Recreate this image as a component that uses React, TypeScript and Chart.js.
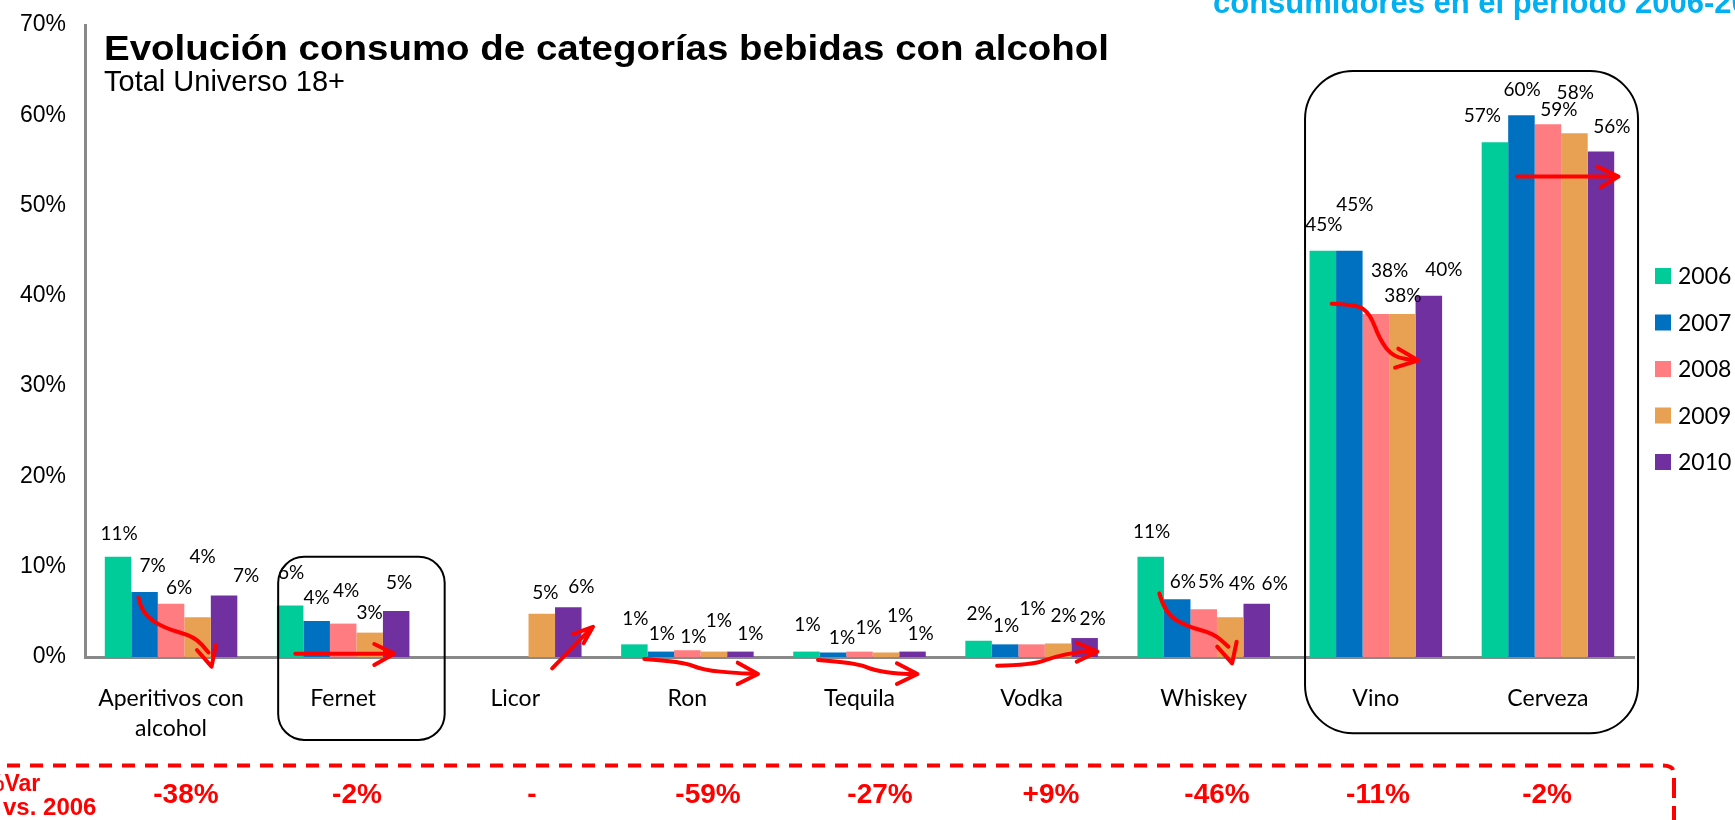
import React, { useEffect, useRef } from 'react';
import { Chart, registerables } from 'chart.js';

Chart.register(...registerables);

// ---------- DATA ----------
const categories: (string | string[])[] = [
  ['Aperitivos con', 'alcohol'],
  'Fernet',
  'Licor',
  'Ron',
  'Tequila',
  'Vodka',
  'Whiskey',
  'Vino',
  'Cerveza',
];
const years = ['2006', '2007', '2008', '2009', '2010'];
const v2006 = [11.1, 5.7, null, 1.4, 0.6, 1.8, 11.1, 45, 57];
const v2007 = [7.2, 4.0, null, 0.6, 0.5, 1.4, 6.4, 45, 60];
const v2008 = [5.9, 3.7, null, 0.75, 0.6, 1.4, 5.3, 38, 59];
const v2009 = [4.4, 2.7, 4.8, 0.6, 0.5, 1.5, 4.4, 38, 58];
const v2010 = [6.8, 5.1, 5.5, 0.6, 0.6, 2.1, 5.9, 40, 56];
const yTickValues = [0, 10, 20, 30, 40, 50, 60, 70];
const varLabels = ['-38%', '-2%', '-', '-59%', '-27%', '+9%', '-46%', '-11%', '-2%'];

const titleText = 'Evolución consumo de categorías bebidas con alcohol';
const subtitleText = 'Total Universo 18+';
const topNoteText = 'consumidores en el período 2006-2010';

// ---------- STYLE / LAYOUT ----------
const colors = ['#00CC99', '#0070C0', '#FF7C80', '#E8A052', '#7030A0'];

// manual label nudges (px) relative to default position above each bar
const labelDx = [
  [1, 1, 0, 1, 1, 1, 1, 1, -12.5],
  [8, 0, 0, 1, 9, 1, 5.6, 5.5, 0.7],
  [8, 3, 0, 6, 9, 1, 7.4, 13.7, 11],
  [5, 0, 3.5, 5, 14, 5.5, 12, 0.5, 0.8],
  [22, 3, 13, 10, 8, 8, 18, 15, 11],
];
const labelDy = [
  [-9.4, -19, 0, -11, -13, -12.7, -10.7, -12, -12],
  [-12, -9.5, 0, -3.6, -1, -4.6, -3, -32, -11.6],
  [-2, -19, 0, 1, -10, -21, -13, -29, -0.6],
  [-46, -6, -7, -17, -23, -13.7, -19, -4, -26.4],
  [-5.5, -14.5, -6, -3.6, -4, -5, -6, -12.4, -11],
];
const varDx = [14.9, 13.8, 16.7, 20.6, 20.5, 19.4, 13.3, 2.2, -0.9];

type P = [number, number]; // [dx px from category centre, value in %]
const arrowPaths: { cat: number; shaft: P[]; tip: P; arms: [P, P] }[] = [
  { cat: 0, shaft: [[-32.6, 6.6], [-29.5, 4.83], [-6.5, 3.17], [23.9, 2.25], [37.5, 0.5]], tip: [40.5, -1.07], arms: [[25.9, 0.77], [44.9, 1.33]] },
  { cat: 1, shaft: [[-47.8, 0.37], [48, 0.37]], tip: [51, 0.37], arms: [[31.1, 1.44], [31.1, -0.88]] },
  { cat: 2, shaft: [[36.9, -1.25], [76, 3.2]], tip: [77.7, 3.35], arms: [[57.7, 2.54], [68.3, 1.52]] },
  { cat: 3, shaft: [[-43.1, -0.22], [-4.1, -0.52], [15.1, -1.44], [51.4, -1.8], [68, -1.88]], tip: [70.6, -1.88], arms: [[50.3, -0.63], [50.3, -2.99]] },
  { cat: 4, shaft: [[-41.5, -0.33], [-4, -0.63], [15.2, -1.52], [40.1, -1.88], [56, -1.88]], tip: [58, -1.88], arms: [[37.4, -0.7], [37.4, -2.99]] },
  { cat: 5, shaft: [[-34.5, -0.96], [0, -0.88], [22.9, 0.03], [45.9, 0.55], [64, 0.59]], tip: [65.8, 0.59], arms: [[45.1, 1.58], [45.1, -0.52]] },
  { cat: 6, shaft: [[-44.4, 7.05], [-38.8, 4.83], [-16.4, 3.35], [9.7, 2.62], [24.7, 1.14]], tip: [28.4, -0.7], arms: [[13.5, 1.14], [32.9, 1.69]] },
  { cat: 7, shaft: [[-44.1, 39.13], [-19.1, 39.05], [-5.8, 38.02], [4.2, 35.07], [17.5, 33.22], [40, 32.85]], tip: [42.5, 32.85], arms: [[22.5, 34.15], [19.2, 32.05]] },
  { cat: 8, shaft: [[-30.9, 53.21], [68, 53.21]], tip: [70.5, 53.21], arms: [[49.4, 54.31], [52.7, 52.02]] },
];

const calloutBoxes = [
  { catL: 1, dxL: -65, catR: 1, dxR: 101.5, vTop: 11.09, vBottom: -9.18, r: 26 },
  { catL: 7, dxL: -70.8, catR: 8, dxR: 90.1, vTop: 64.9, vBottom: -8.44, r: 48 },
];

const ARIAL = '"Liberation Sans", Arial, sans-serif';
const CALIBRI = 'Lato, "Open Sans", sans-serif';

const barLabelsPlugin = {
  id: 'barLabels',
  afterDatasetsDraw(chart: any) {
    const ctx = chart.ctx;
    ctx.save();
    ctx.font = `19px ${CALIBRI}`;
    ctx.fillStyle = '#000';
    ctx.textAlign = 'center';
    ctx.textBaseline = 'middle';
    chart.data.datasets.forEach((ds: any, si: number) => {
      const meta = chart.getDatasetMeta(si);
      meta.data.forEach((bar: any, ci: number) => {
        const v = ds.data[ci];
        if (v == null) return;
        ctx.fillText(Math.round(v) + '%', bar.x + labelDx[si][ci], bar.y - 14 + labelDy[si][ci]);
      });
    });
    ctx.restore();
  },
};

const annotationsPlugin = {
  id: 'annotations',
  afterDraw(chart: any) {
    const ctx = chart.ctx;
    const xs = chart.scales.x;
    const ys = chart.scales.y;
    const px = (cat: number, dx: number) => xs.getPixelForValue(cat) + dx;
    const py = (v: number) => ys.getPixelForValue(v);
    ctx.save();

    // callout rounded boxes
    ctx.strokeStyle = '#000';
    ctx.lineWidth = 2;
    calloutBoxes.forEach((b) => {
      const x1 = px(b.catL, b.dxL);
      const x2 = px(b.catR, b.dxR);
      const y1 = py(b.vTop);
      const y2 = py(b.vBottom);
      ctx.beginPath();
      ctx.roundRect(x1, y1, x2 - x1, y2 - y1, b.r);
      ctx.stroke();
    });

    // red hand-drawn arrows
    ctx.strokeStyle = '#FF0000';
    ctx.lineWidth = 4;
    ctx.lineCap = 'round';
    ctx.lineJoin = 'round';
    arrowPaths.forEach((a) => {
      const pts = a.shaft.map(([dx, v]) => [px(a.cat, dx), py(v)]);
      ctx.beginPath();
      ctx.moveTo(pts[0][0], pts[0][1]);
      for (let i = 1; i < pts.length - 1; i++) {
        const mx = (pts[i][0] + pts[i + 1][0]) / 2;
        const my = (pts[i][1] + pts[i + 1][1]) / 2;
        ctx.quadraticCurveTo(pts[i][0], pts[i][1], mx, my);
      }
      const last = pts[pts.length - 1];
      ctx.lineTo(last[0], last[1]);
      ctx.stroke();
      ctx.beginPath();
      ctx.moveTo(px(a.cat, a.arms[0][0]), py(a.arms[0][1]));
      ctx.lineTo(px(a.cat, a.tip[0]), py(a.tip[1]));
      ctx.lineTo(px(a.cat, a.arms[1][0]), py(a.arms[1][1]));
      ctx.stroke();
    });

    // legend
    ctx.textAlign = 'left';
    ctx.textBaseline = 'middle';
    ctx.font = `23px ${CALIBRI}`;
    chart.data.datasets.forEach((ds: any, i: number) => {
      const cy = 276 + i * 46.5;
      ctx.fillStyle = ds.backgroundColor;
      ctx.fillRect(1655, cy - 8, 16, 16);
      ctx.fillStyle = '#000';
      ctx.fillText(ds.label, 1678, cy + 1);
    });

    // title & subtitle
    ctx.textBaseline = 'alphabetic';
    ctx.fillStyle = '#000';
    ctx.font = `bold 35px ${ARIAL}`;
    const tw = ctx.measureText(titleText).width;
    ctx.save();
    ctx.translate(104, 60);
    ctx.scale(1005 / tw, 1);
    ctx.fillText(titleText, 0, 0);
    ctx.restore();
    ctx.font = `29px ${ARIAL}`;
    ctx.fillText(subtitleText, 104, 91);

    // top (cropped) blue note
    ctx.fillStyle = '#00B0F0';
    ctx.font = `bold 31px ${ARIAL}`;
    ctx.fillText(topNoteText, 1213, 13);

    // var row: dashed frame
    ctx.strokeStyle = '#FF0000';
    ctx.lineWidth = 4;
    ctx.lineCap = 'butt';
    ctx.setLineDash([13, 10]);
    ctx.beginPath();
    ctx.moveTo(7, 765.5);
    ctx.lineTo(1660, 765.5);
    ctx.stroke();
    ctx.setLineDash([]);
    ctx.beginPath();
    ctx.moveTo(1663, 765.5);
    ctx.quadraticCurveTo(1672, 766, 1673, 770);
    ctx.stroke();
    ctx.setLineDash([20, 8]);
    ctx.beginPath();
    ctx.moveTo(1674, 778);
    ctx.lineTo(1674, 830);
    ctx.stroke();
    ctx.setLineDash([]);

    // var row texts
    ctx.fillStyle = '#FF0000';
    ctx.font = `bold 23px ${ARIAL}`;
    ctx.textAlign = 'left';
    ctx.fillText('%Var', -16, 791);
    ctx.font = `bold 24px ${ARIAL}`;
    ctx.fillText('vs. 2006', 3, 815);
    ctx.font = `bold 28px ${ARIAL}`;
    ctx.textAlign = 'center';
    varLabels.forEach((t, i) => {
      ctx.fillText(t, px(i, varDx[i]), 803);
    });

    ctx.restore();
  },
};

export default function App() {
  const ref = useRef<HTMLCanvasElement>(null);
  useEffect(() => {
    document.body.style.margin = '0';
    document.body.style.overflow = 'hidden';
    const series = [v2006, v2007, v2008, v2009, v2010];
    const chart = new Chart(ref.current as HTMLCanvasElement, {
      type: 'bar',
      data: {
        labels: categories as any,
        datasets: series.map((d, i) => ({
          label: years[i],
          data: d as any,
          backgroundColor: colors[i],
          borderWidth: 0,
          barPercentage: 1,
          categoryPercentage: 0.77,
        })),
      },
      options: {
        animation: false,
        responsive: true,
        maintainAspectRatio: false,
        devicePixelRatio: 1,
        layout: { padding: { left: 0, right: 101, top: 25, bottom: 0 } },
        plugins: {
          legend: { display: false },
          tooltip: { enabled: false },
          title: { display: false },
        },
        scales: {
          x: {
            grid: { display: false, drawTicks: false },
            border: { display: true, color: '#898989', width: 3 },
            ticks: {
              font: { family: CALIBRI, size: 23, lineHeight: 1.3 },
              color: '#000',
              padding: 27,
              autoSkip: false,
              maxRotation: 0,
            },
            afterFit: (s: any) => {
              s.height = 163;
              s.paddingLeft = 0;
              s.paddingRight = 0;
            },
          },
          y: {
            min: yTickValues[0],
            max: yTickValues[yTickValues.length - 1],
            grid: { display: false, drawTicks: false },
            border: { display: true, color: '#898989', width: 3 },
            ticks: {
              stepSize: yTickValues[1] - yTickValues[0],
              callback: (v: any) => v + '%',
              font: { family: ARIAL, size: 23 },
              color: '#000',
              padding: 19,
            },
            afterFit: (s: any) => {
              s.width = 85;
              s.paddingTop = 0;
              s.paddingBottom = 0;
            },
          },
        },
      },
      plugins: [barLabelsPlugin, annotationsPlugin],
    });
    return () => chart.destroy();
  }, []);
  return (
    <div style={{ position: 'absolute', left: 0, top: 0, width: 1735, height: 820, background: '#fff' }}>
      <canvas ref={ref} />
    </div>
  );
}
